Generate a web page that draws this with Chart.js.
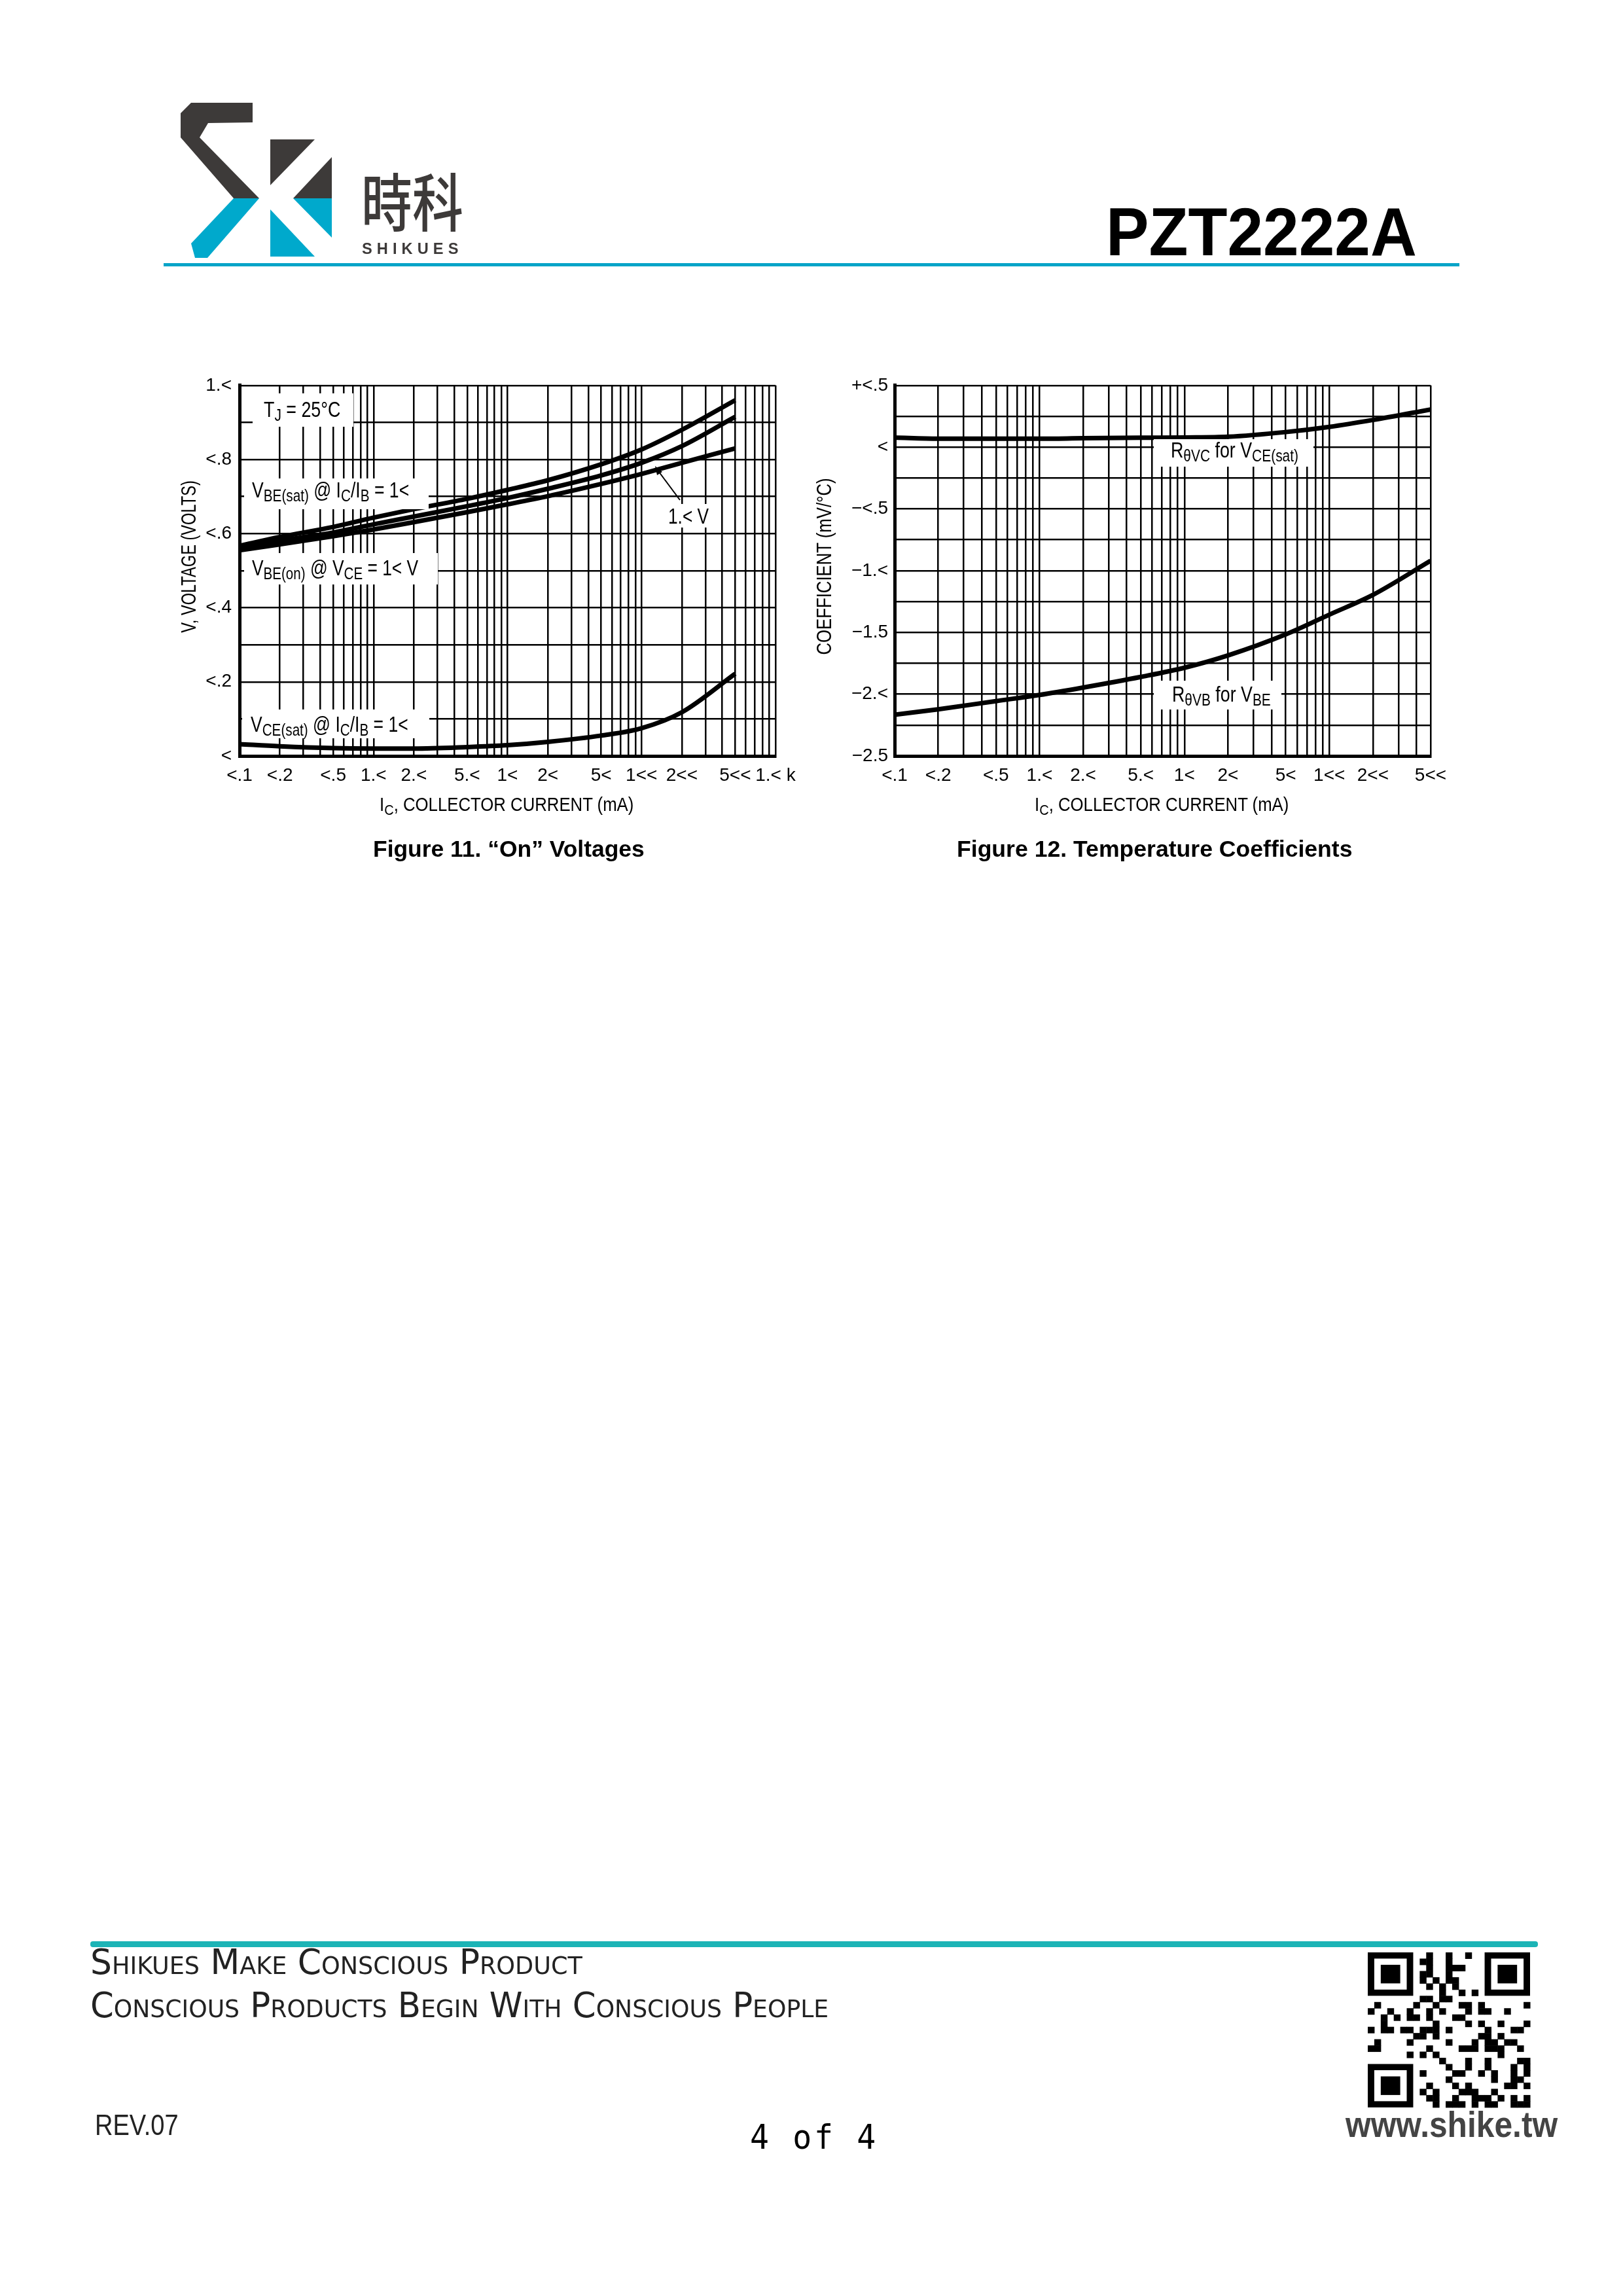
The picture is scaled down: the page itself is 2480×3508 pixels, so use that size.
<!DOCTYPE html>
<html>
<head>
<meta charset="utf-8">
<script src="https://cdn.jsdelivr.net/npm/chart.js@4.4.0/dist/chart.umd.min.js"></script>
<style>
  html, body { margin: 0; padding: 0; background: #fff; }
  body { position: relative; width: 2480px; height: 3508px; overflow: hidden; }
  canvas { position: absolute; }
  .txt { position: absolute; white-space: nowrap; line-height: 1; transform-origin: 0 0; }
  .txt sub { font-size: 0.78em; vertical-align: -0.25em; line-height: 0; }
  .box { position: absolute; background: #fff; }
</style>
</head>
<body>
<canvas id="onVoltages" width="1000" height="660" style="left:240px;top:560px;width:1000px;height:660px"></canvas>
<canvas id="tempCoef" width="985" height="658" style="left:1241px;top:562px;width:985px;height:658px"></canvas>
<svg id="deco" width="2480" height="3508" style="position:absolute;left:0;top:0;pointer-events:none"></svg>

<script>
// Figure 11 - "On" voltages vs collector current (mA)
const currentMa = [0.1, 0.2, 0.5, 1, 2, 5, 10, 20, 50, 100, 200, 500];
const vbeSat   = [0.567, 0.591, 0.618, 0.643, 0.666, 0.694, 0.718, 0.744, 0.787, 0.827, 0.880, 0.960];
const vbeOn1V  = [0.561, 0.581, 0.603, 0.625, 0.646, 0.674, 0.696, 0.721, 0.757, 0.791, 0.836, 0.915];
const vbeOn10V = [0.555, 0.571, 0.593, 0.611, 0.631, 0.658, 0.679, 0.701, 0.734, 0.761, 0.791, 0.830];
const vceSat   = [0.032, 0.026, 0.021, 0.020, 0.020, 0.024, 0.029, 0.038, 0.055, 0.075, 0.118, 0.222];

// Figure 12 - temperature coefficients (mV/°C)
const coefCurrentMa = [0.1, 0.2, 0.5, 1, 2, 5, 10, 20, 50, 100, 200, 500];
const thetaVC = [0.078, 0.068, 0.068, 0.068, 0.072, 0.076, 0.078, 0.084, 0.122, 0.164, 0.220, 0.305];
const thetaVB = [-2.166, -2.122, -2.056, -2.006, -1.946, -1.860, -1.786, -1.686, -1.516, -1.356, -1.196, -0.920];

// tick labels as printed on the sheet
const xTickVals1   = [0.1, 0.2, 0.5, 1, 2, 5, 10, 20, 50, 100, 200, 500, 1000];
const xTickLabels1 = ['<.1', '<.2', '<.5', '1.<', '2.<', '5.<', '1<', '2<', '5<', '1<<', '2<<', '5<<', '1.< k'];
const xTickVals2   = [0.1, 0.2, 0.5, 1, 2, 5, 10, 20, 50, 100, 200, 500];
const xTickLabels2 = ['<.1', '<.2', '<.5', '1.<', '2.<', '5.<', '1<', '2<', '5<', '1<<', '2<<', '5<<'];
const yTickVals1   = [0, 0.2, 0.4, 0.6, 0.8, 1.0];
const yTickLabels1 = ['<', '<.2', '<.4', '<.6', '<.8', '1.<'];
const yTickVals2   = [-2.5, -2.0, -1.5, -1.0, -0.5, 0, 0.5];
const yTickLabels2 = ['\u22122.5', '\u22122.<', '\u22121.5', '\u22121.<', '\u2212<.5', '<', '+<.5'];

const SANS = "'Liberation Sans', Arial, Helvetica, sans-serif";
const NARROW = "'Liberation Sans Narrow', 'Arial Narrow', 'Liberation Sans', sans-serif";
Chart.defaults.font.family = NARROW;
Chart.defaults.font.size = 28;
Chart.defaults.color = '#000';

function lookup(vals, labels, v) {
    for (let i = 0; i < vals.length; i++) {
        if (Math.abs(vals[i] - v) < 1e-6 * Math.max(1, Math.abs(v))) return labels[i];
    }
    return '';
}

// every 1..9 step of each decade, for the log grid
function logGrid(min, max) {
    const out = [];
    for (let d = Math.floor(Math.log10(min)); d <= Math.ceil(Math.log10(max)); d++) {
        for (let m = 1; m <= 9; m++) {
            const v = Number((m * Math.pow(10, d)).toPrecision(6));
            if (v >= min * 0.999 && v <= max * 1.001) out.push(v);
        }
    }
    return out;
}

function line(xs, ys) {
    return {
        data: xs.map((x, i) => ({ x: x, y: ys[i] })),
        borderColor: '#000',
        borderWidth: 7,
        pointRadius: 0,
        cubicInterpolationMode: 'monotone',
        fill: false
    };
}

function makeChart(id, cfg) {
    const ctx = document.getElementById(id).getContext('2d');
    return new Chart(ctx, {
        type: 'line',
        data: { datasets: cfg.datasets },
        options: {
            responsive: false,
            animation: false,
            devicePixelRatio: 1,
            layout: { padding: cfg.padding },
            plugins: { legend: { display: false }, tooltip: { enabled: false } },
            scales: {
                x: {
                    type: 'logarithmic',
                    min: cfg.xMin,
                    max: cfg.xMax,
                    afterBuildTicks: function (scale) {
                        scale.ticks = logGrid(cfg.xMin, cfg.xMax).map(v => ({ value: v }));
                    },
                    afterFit: function (scale) { scale.height = 60; },
                    grid: { color: '#000', lineWidth: 2.5, drawTicks: false },
                    border: { color: '#000', width: 5 },
                    ticks: {
                        autoSkip: false,
                        maxRotation: 0,
                        padding: 13,
                        callback: function (v) { return lookup(cfg.xVals, cfg.xLabels, v); }
                    }
                },
                y: {
                    type: 'linear',
                    min: cfg.yMin,
                    max: cfg.yMax,
                    afterFit: function (scale) { scale.width = 126; },
                    grid: { color: '#000', lineWidth: 2.5, drawTicks: false },
                    border: { color: '#000', width: 5 },
                    ticks: {
                        stepSize: cfg.yStep,
                        padding: cfg.yPad,
                        callback: function (v) { return lookup(cfg.yVals, cfg.yLabels, v); }
                    }
                }
            }
        }
    });
}

makeChart('onVoltages', {
    datasets: [line(currentMa, vbeSat), line(currentMa, vbeOn1V), line(currentMa, vbeOn10V), line(currentMa, vceSat)],
    xMin: 0.1, xMax: 1000, yMin: 0, yMax: 1.0, yStep: 0.1, yPad: 12,
    xVals: xTickVals1, xLabels: xTickLabels1, yVals: yTickVals1, yLabels: yTickLabels1,
    padding: { top: 19, right: 55, bottom: 5, left: 0 }
});

makeChart('tempCoef', {
    datasets: [line(coefCurrentMa, thetaVC), line(coefCurrentMa, thetaVB)],
    xMin: 0.1, xMax: 500, yMin: -2.5, yMax: 0.5, yStep: 0.25, yPad: 10,
    xVals: xTickVals2, xLabels: xTickLabels2, yVals: yTickVals2, yLabels: yTickLabels2,
    padding: { top: 19, right: 40, bottom: 5, left: 0 }
});

// ---- text and boxes on top of the page ----
function addBox(x0, y0, x1, y1) {
    const b = document.createElement('div');
    b.className = 'box';
    b.style.left = x0 + 'px'; b.style.top = y0 + 'px';
    b.style.width = (x1 - x0) + 'px'; b.style.height = (y1 - y0) + 'px';
    document.body.appendChild(b);
}

function addText(html, o) {
    const el = document.createElement('div');
    el.className = 'txt';
    el.innerHTML = html;
    el.style.fontFamily = o.family || SANS;
    el.style.fontSize = o.size + 'px';
    el.style.fontWeight = o.weight || 'normal';
    el.style.color = o.color || '#000';
    if (o.variant) el.style.fontVariant = o.variant;
    if (o.spacing) el.style.letterSpacing = o.spacing;
    document.body.appendChild(el);
    const w = el.offsetWidth, h = el.offsetHeight;
    const s = o.width ? o.width / w : 1;
    if (o.rotate) {
        el.style.transformOrigin = '50% 50%';
        el.style.left = (o.x - w / 2) + 'px';
        el.style.top = (o.y - h / 2) + 'px';
        el.style.transform = 'rotate(-90deg) scaleX(' + s + ')';
        return;
    }
    const shown = w * s;
    const left = o.align === 'center' ? o.x - shown / 2 : o.x;
    el.style.left = left + 'px';
    el.style.top = (o.base - (o.asc || 0.85) * o.size) + 'px';
    el.style.transform = 'scaleX(' + s + ')';
}

// figure 11 annotations
const ANN = { size: 33, family: NARROW };
addBox(386, 601, 540, 652);
addText('T<sub>J</sub> = 25°C', Object.assign({ x: 403, base: 637, width: 117 }, ANN));
addBox(373, 731, 655, 778);
addText('V<sub>BE(sat)</sub> @ I<sub>C</sub>/I<sub>B</sub> = 1<', Object.assign({ x: 385, base: 760, width: 240 }, ANN));
addBox(373, 845, 669, 893);
addText('V<sub>BE(on)</sub> @ V<sub>CE</sub> = 1< V', Object.assign({ x: 385, base: 879, width: 254 }, ANN));
addBox(370, 1084, 656, 1128);
addText('V<sub>CE(sat)</sub> @ I<sub>C</sub>/I<sub>B</sub> = 1<', Object.assign({ x: 383, base: 1118, width: 241 }, ANN));
addBox(1014, 770, 1090, 806);
addText('1.< V', Object.assign({ x: 1021, base: 800, width: 62 }, ANN));

// figure 12 annotations
addBox(1763, 671, 2007, 713);
addText('R<sub>θVC</sub> for V<sub>CE(sat)</sub>', Object.assign({ x: 1789, base: 699, width: 195 }, ANN));
addBox(1763, 1040, 1958, 1084);
addText('R<sub>θVB</sub> for V<sub>BE</sub>', Object.assign({ x: 1791, base: 1072, width: 151 }, ANN));

// axis titles and captions
addText('V, VOLTAGE (VOLTS)', { x: 289, y: 850, size: 31, family: NARROW, width: 233, rotate: true });
addText('COEFFICIENT (mV/°C)', { x: 1259, y: 865, size: 31, family: NARROW, width: 270, rotate: true });
addText('I<sub>C</sub>, COLLECTOR CURRENT (mA)', { x: 774, base: 1240, size: 29, family: NARROW, width: 388, align: 'center' });
addText('I<sub>C</sub>, COLLECTOR CURRENT (mA)', { x: 1775, base: 1240, size: 29, family: NARROW, width: 388, align: 'center' });
addText('Figure 11. \u201COn\u201D Voltages', { x: 777, base: 1309, size: 35, weight: 'bold', width: 415, align: 'center' });
addText('Figure 12. Temperature Coefficients', { x: 1764, base: 1309, size: 35, weight: 'bold', width: 605, align: 'center' });

// header
addText('PZT2222A', { x: 1690, base: 390, size: 104, weight: 'bold', width: 475 });
addText('時科', { x: 552, base: 340, size: 96, weight: 500, family: "'Noto Sans CJK TC', sans-serif", width: 156, color: '#3d3a39', asc: 0.88 });
addText('SHIKUES', { x: 553, base: 389, size: 23, weight: 'bold', spacing: '0.3em', width: 155, color: '#3d3a39' });

// footer
const COND = "'DejaVu Sans Condensed', 'DejaVu Sans', sans-serif";
addText('Shikues Make Conscious Product', { x: 138, base: 3017, size: 54, variant: 'small-caps', family: COND, weight: 300, width: 752, color: '#222' });
addText('Conscious Products Begin With Conscious People', { x: 138, base: 3083, size: 54, variant: 'small-caps', family: COND, weight: 300, width: 1128, color: '#222' });
addText('REV.07', { x: 145, base: 3262, size: 44, family: NARROW, width: 128, color: '#222' });
addText('4 of 4', { x: 1146, base: 3283, size: 52, family: "'DejaVu Sans Mono', monospace", spacing: '4px', width: 196 });
addText('www.shike.tw', { x: 2056, base: 3266, size: 56, weight: 'bold', width: 324, color: '#444' });

// rules, logo, arrow, QR
const svg = document.getElementById('deco');
const NS = 'http://www.w3.org/2000/svg';
function el(tag, attrs) {
    const e = document.createElementNS(NS, tag);
    for (const k in attrs) e.setAttribute(k, attrs[k]);
    svg.appendChild(e);
    return e;
}
el('rect', { x: 250, y: 402, width: 1980, height: 5, fill: '#08a4c8' });
el('rect', { x: 138, y: 2966, width: 2212, height: 9, rx: 4, fill: '#1cb4b6' });

const DARK = '#3d3a39', BLUE = '#00a9cc';
el('polygon', { points: '292,157 386,157 386,187 318,188 305,210 396,303 357,303 276,210 276,173', fill: DARK });
el('polygon', { points: '357,303 396,303 317,394 298,394 292,372', fill: BLUE });
el('polygon', { points: '413,213 481,213 413,283', fill: DARK });
el('polygon', { points: '507,240 507,303 448,303', fill: DARK });
el('polygon', { points: '448,303 507,303 507,363', fill: BLUE });
el('polygon', { points: '413,320 413,392 481,392', fill: BLUE });

// arrow to the 1.0 V curve
el('line', { x1: 1039, y1: 764, x2: 1004, y2: 717, stroke: '#000', 'stroke-width': 2 });
el('polygon', { points: '1001,712 1012,721 1004,726', fill: '#000' });

// QR-style block
const qx = 2090, qy = 2983, qn = 25, qs = 248 / 25;
function finder(cx, cy) {
    el('rect', { x: qx + cx * qs, y: qy + cy * qs * 0.955, width: 7 * qs, height: 7 * qs * 0.955, fill: '#000' });
    el('rect', { x: qx + (cx + 1) * qs, y: qy + (cy + 1) * qs * 0.955, width: 5 * qs, height: 5 * qs * 0.955, fill: '#fff' });
    el('rect', { x: qx + (cx + 2) * qs, y: qy + (cy + 2) * qs * 0.955, width: 3 * qs, height: 3 * qs * 0.955, fill: '#000' });
}
for (let r = 0; r < qn; r++) {
    for (let c = 0; c < qn; c++) {
        const inFinder = (r < 8 && c < 8) || (r < 8 && c > qn - 9) || (r > qn - 9 && c < 8);
        if (inFinder) continue;
        if (((r * 7 + c * 11) ^ (r * c)) % 3 === 0) {
            el('rect', { x: qx + c * qs, y: qy + r * qs * 0.955, width: qs + 0.5, height: qs * 0.955 + 0.5, fill: '#000' });
        }
    }
}
finder(0, 0); finder(qn - 7, 0); finder(0, qn - 7);
</script>
</body>
</html>
